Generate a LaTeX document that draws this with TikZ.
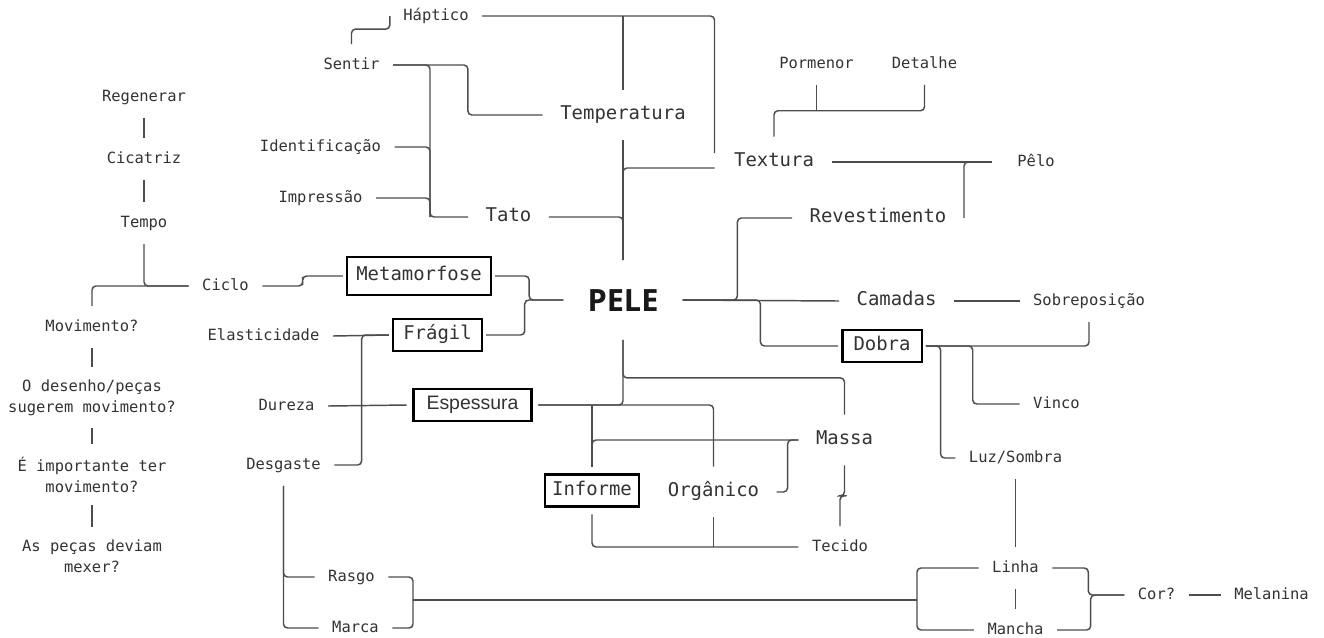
\documentclass[tikz,border=0pt]{standalone}
\usepackage{fontspec}
\usetikzlibrary{calc}
\newfontfamily\monofont{DejaVu Sans Mono}
\newfontfamily\headfont{Open Sans}
\newfontfamily\plainsans{Liberation Sans}
\newcommand{\smallmono}{\monofont\fontsize{11.6}{15.75}\selectfont}
\newcommand{\bigmono}{\monofont\fontsize{14.2}{17}\selectfont}
\definecolor{ink}{HTML}{333333}
\definecolor{wire}{HTML}{4D4D4D}
\tikzset{
  lbl/.style={font=\smallmono, text=ink, inner xsep=10pt, inner ysep=10pt,
    text height=8.5pt, text depth=2.5pt},
  big/.style={font=\bigmono, text=ink, inner xsep=13pt, inner ysep=12pt,
    text height=10.5pt, text depth=3.3pt},
  two/.style={font=\smallmono, text=ink, align=center, inner xsep=10pt, inner ysep=9pt},
  box/.style={big, draw=black, line width=2pt, inner xsep=7pt, inner ysep=5pt, outer sep=3pt},
  pele/.style={font={\headfont\bfseries\fontsize{23}{23}\selectfont}, text=black!90,
    text height=16.5pt, text depth=0pt, inner xsep=18pt, inner ysep=21.5pt},
  link/.style={draw=wire, line width=1.1pt, rounded corners=3pt},
  elbow/.style={to path={-| ($(\tikztostart)!.5!(\tikztotarget)$) |- (\tikztotarget)}}
}
\begin{document}
\begin{tikzpicture}[x=0.75pt,y=-0.75pt]
      \useasboundingbox[fill=white] (0,0) rectangle (1324,637);
      \node[pele] (pele) at (623,300) {PELE};
      \node[lbl] (hap) at (436,16) {Háptico};
      \node[lbl] (sen) at (351.5,65) {Sentir};
      \node[lbl] (ide) at (320.5,147) {Identificação};
      \node[lbl] (imp) at (320.5,198) {Impressão};
      \node[big] (tem) at (623,115) {Temperatura};
      \node[big] (tat) at (508.5,217) {Tato};
      \node[big] (tex) at (774,162) {Textura};
      \node[lbl] (por) at (816.5,64) {Pormenor};
      \node[lbl] (det) at (924.5,64) {Detalhe};
      \node[lbl,inner xsep=19pt] (pel) at (1036,162) {Pêlo};
      \node[big] (rev) at (878,218) {Revestimento};
      \node[big] (cam) at (896.5,301) {Camadas};
      \node[lbl] (sob) at (1089,301) {Sobreposição};
      \node[box,inner xsep=8.5pt] (dob) at (882,346) {Dobra};
      \node[lbl] (vin) at (1056.5,404) {Vinco};
      \node[lbl] (luz) at (1015.5,458) {Luz/Sombra};
      \node[lbl] (lin) at (1015.5,568) {Linha};
      \node[lbl] (man) at (1015.5,630) {Mancha};
      \node[lbl] (cor) at (1156.5,595) {Cor?};
      \node[lbl] (mel) at (1271.5,595) {Melanina};
      \node[lbl] (reg) at (144,97) {Regenerar};
      \node[lbl] (cic) at (144,159) {Cicatriz};
      \node[lbl] (tmp) at (144,223) {Tempo};
      \node[lbl] (cyc) at (225.5,286) {Ciclo};
      \node[lbl] (mov) at (92,327) {Movimento?};
      \node[two] (des) at (92,397.5) {O desenho/peças\\sugerem movimento?};
      \node[two] (imt) at (92,474.5) {É importante ter\\movimento?};
      \node[two] (pec) at (92,556) {As peças deviam\\mexer?};
      \node[box,inner ysep=7.3pt] (met) at (419,276) {Metamorfose};
      \node[box,inner xsep=7.8pt] (fra) at (437.5,335) {Frágil};
      \node[box,font={\plainsans\fontsize{14.6}{17}\selectfont},inner xsep=10pt,outer sep=5pt] (esp) at (472.5,405) {Espessura};
      \node[lbl] (ela) at (263.5,336) {Elasticidade};
      \node[lbl] (dur) at (286.5,406) {Dureza};
      \node[lbl] (dsg) at (283.5,465) {Desgaste};
      \node[lbl] (ras) at (351.5,577) {Rasgo};
      \node[lbl] (mar) at (355.5,628) {Marca};
      \node[box,inner xsep=5.3pt,outer sep=6pt] (inf) at (592,490.5) {Informe};
      \node[big] (org) at (713.5,492) {Orgânico};
      \node[big] (mas) at (844.5,440) {Massa};
      \node[lbl] (tec) at (840,547) {Tecido};

      \coordinate (jtat) at (430,217);
      \coordinate (jrm) at (413,600);
      \coordinate (jlm) at (917,600);
      \coordinate (tin1) at ($(tex.west)+(-2,-9)$);
      \coordinate (tin2) at ($(tex.west)+(-2,6)$);
      \coordinate (jdet) at ($(tex.north)!.5!(det.south)$);
      \coordinate (jmas) at ($(pele.south)+(0,38)$);

      \begin{scope}[link]
        \draw (sen.north) -- ++(0,-15) -| (hap.west);
        \draw (sen.east) to[elbow] (tem.west);
        \draw (sen.east) -| (jtat) -- (tat.west);
        \draw (ide.east) -| (jtat);
        \draw (imp.east) -| (jtat);
        \draw (hap.east) -| (tin1);
        \draw (tem.north) -- (tem.north |- hap.east);
        \draw (tem.south) -- (pele.north);
        \draw (tat.east) -| (pele.north);
        \draw (pele.north) |- (tin2);

        \draw (met.east) to[elbow] (pele.west);
        \draw (fra.east) to[elbow] (pele.west);
        \draw (cyc.east) to[elbow] (met.west);
        \draw (ela.east) -- (fra.west);
        \draw (dsg.east) to[elbow] (fra.west);
        \draw (dur.east) -- (esp.west);

        \draw (reg.south) -- (cic.north);
        \draw (cic.south) -- (tmp.north);
        \draw (tmp.south) |- (cyc.west);
        \draw (cyc.west) -| (mov.north);
        \draw (mov.south) -- (des.north);
        \draw (des.south) -- (imt.north);
        \draw (imt.south) -- (pec.north);

        \draw (dsg.south) |- (ras.west);
        \draw (dsg.south) |- (mar.west);
        \draw (ras.east) -| (jrm);
        \draw (mar.east) -| (jrm);
        \draw (jrm) -- (jlm);
        \draw (lin.west) -| (jlm);
        \draw (man.west) -| (jlm);
        \draw (lin.east) to[elbow] (cor.west);
        \draw (man.east) to[elbow] (cor.west);
        \draw (cor.east) -- (mel.west);

        \draw (pele.south) |- (esp.east);
        \draw (esp.east) -| (org.north);
        \draw (inf.north) -- (inf.north |- esp.east);
        \draw (inf.north) |- (mas.west);
        \draw (org.east) to[elbow] (mas.west);
        \draw (pele.south) -- (jmas) -| (mas.north);
        \draw (mas.south) |- ($(mas.south)!.5!(tec.north)$) -| (tec.north);
        \draw (inf.south) |- (tec.west);
        \draw (org.south) -- (org.south |- tec.west);

        \draw (pele.east) to[elbow] (rev.west);
        \draw (pele.east) -- (cam.west);
        \draw (cam.east) -- (sob.west);
        \draw (pele.east) to[elbow] (dob.west);
        \draw (tex.north) |- (jdet) -| (det.south);
        \draw (por.south) -- (por.south |- jdet);
        \draw (tex.east) -- (pel.west);
        \draw (rev.east) |- (pel.west);
        \draw (dob.east) -| (sob.south);
        \draw (dob.east) to[elbow] (vin.west);
        \draw (dob.east) to[elbow] (luz.west);
        \draw (luz.south) -- (lin.north);
        \draw (lin.south) -- (man.north);
      \end{scope}
    \end{tikzpicture}
\end{document}
